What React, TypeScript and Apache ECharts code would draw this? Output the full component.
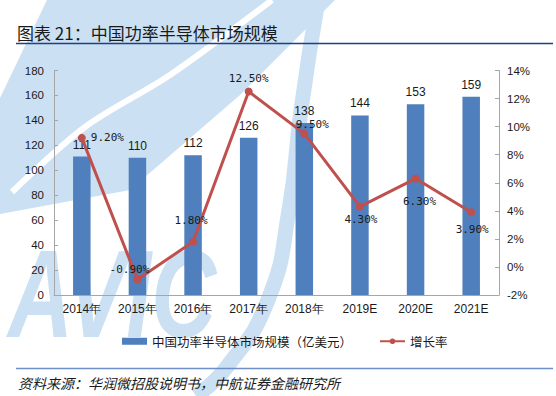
import React, { useEffect, useRef } from "react";
import * as echarts from "echarts";

const categories = ["2014年", "2015年", "2016年", "2017年", "2018年", "2019E", "2020E", "2021E"];
const marketSize = [111, 110, 112, 126, 138, 144, 153, 159];
const growthRate = [9.2, -0.9, 1.8, 12.5, 9.5, 4.3, 6.3, 3.9];
const barName = "中国功率半导体市场规模（亿美元）";
const lineName = "增长率";
const titleText = "图表 21：中国功率半导体市场规模";
const sourceText = "资料来源：华润微招股说明书，中航证券金融研究所";

// label placement per point (style only)
const growthLabelPlace: any[] = [
  { position: "right", distance: 5, offset: [0, 0] },
  { position: "top", distance: 1, offset: [-8, 0] },
  { position: "top", distance: 12, offset: [-2, 0] },
  { position: "top", distance: 4, offset: [0, 0] },
  { position: "top", distance: 0, offset: [8, 0] },
  { position: "bottom", distance: 3, offset: [1, 0] },
  { position: "bottom", distance: 13, offset: [4, 0] },
  { position: "bottom", distance: 8, offset: [1, 0] },
];

const WM = "#cbe0f2";
const CJK = "'Noto Sans CJK SC', sans-serif";
const LAT = "'Liberation Sans', Arial, sans-serif";

export default function App() {
  const ref = useRef<HTMLDivElement>(null);
  useEffect(() => {
    if (!ref.current) return;
    const chart = echarts.init(ref.current, null, { renderer: "svg" });
    const option: any = {
      animation: false,
      backgroundColor: "#ffffff",
      graphic: [
        {
          type: "polygon",
          z: -10,
          shape: { points: [[0, 98], [47, 0], [335, 0], [240, 95], [130, 190], [0, 214]] },
          style: { fill: WM },
        },
        {
          type: "polyline",
          z: -9,
          shape: { points: [[12, 192], [85, 127], [170, 75], [272, 0]], smooth: 0.3 },
          style: { stroke: "#ffffff", lineWidth: 6, fill: null },
        },
        {
          type: "polyline",
          z: -9,
          shape: { points: [[318, 0], [301, 110], [289, 210], [268, 300], [226, 368], [196, 396]], smooth: 0.5 },
          style: { stroke: WM, lineWidth: 15, fill: null },
        },
        {
          type: "text",
          z: -9,
          x: 8,
          y: 356,
          scaleX: 0.72,
          style: {
            text: "AVIC",
            fill: WM,
            font: "italic bold 125px 'Liberation Sans', Arial, sans-serif",
            verticalAlign: "bottom",
            align: "left",
          },
        },
        {
          type: "text",
          x: 17,
          y: 32,
          style: {
            text: titleText,
            fill: "#1a1a1a",
            font: `17px ${CJK}`,
            verticalAlign: "middle",
          },
        },
        {
          type: "line",
          shape: { x1: 16, y1: 43.5, x2: 553, y2: 43.5 },
          style: { stroke: "#1f3f88", lineWidth: 1.5 },
        },
        {
          type: "line",
          shape: { x1: 16, y1: 368.5, x2: 553, y2: 368.5 },
          style: { stroke: "#6f8fc8", lineWidth: 1.5 },
        },
        {
          type: "text",
          x: 18,
          y: 383,
          style: {
            text: sourceText,
            fill: "#1a1a1a",
            font: `italic 14px ${CJK}`,
            verticalAlign: "middle",
          },
        },
      ],
      grid: { left: 54, right: 57, top: 70.5, bottom: 101, containLabel: false },
      legend: {
        left: 117,
        top: 330,
        itemWidth: 25,
        itemHeight: 7,
        itemGap: 27,
        textStyle: { fontFamily: CJK, fontSize: 12.5, color: "#1a1a1a" },
        data: [
          { name: barName, icon: "rect" },
          { name: lineName },
        ],
      },
      xAxis: {
        type: "category",
        data: categories,
        axisLine: { lineStyle: { color: "#a6a6a6", width: 1 } },
        axisTick: { inside: true, length: 5, lineStyle: { color: "#a6a6a6" } },
        axisLabel: { fontFamily: LAT, fontSize: 12, color: "#1a1a1a", margin: 8 },
        splitLine: { show: false },
      },
      yAxis: [
        {
          type: "value",
          min: 0,
          max: 180,
          interval: 20,
          axisLine: { show: true, lineStyle: { color: "#a6a6a6" } },
          axisTick: { show: true, inside: true, length: 4, lineStyle: { color: "#a6a6a6" } },
          axisLabel: { fontFamily: LAT, fontSize: 11.5, color: "#1a1a1a", margin: 10 },
          splitLine: { show: false },
        },
        {
          type: "value",
          min: -2,
          max: 14,
          interval: 2,
          position: "right",
          axisLine: { show: true, lineStyle: { color: "#a6a6a6" } },
          axisTick: { show: true, inside: true, length: 4, lineStyle: { color: "#a6a6a6" } },
          axisLabel: { fontFamily: LAT, fontSize: 11.5, color: "#1a1a1a", margin: 8, formatter: "{value}%" },
          splitLine: { show: false },
        },
      ],
      series: [
        {
          name: barName,
          type: "bar",
          data: marketSize,
          barWidth: 17.5,
          itemStyle: { color: "#4f7fbd" },
          z: 2,
          label: {
            show: true,
            position: "top",
            distance: 6,
            fontFamily: LAT,
            fontSize: 12,
            color: "#1a1a1a",
          },
        },
        {
          name: lineName,
          type: "line",
          yAxisIndex: 1,
          z: 3,
          data: growthRate.map((v, i) => ({
            value: v,
            label: { ...growthLabelPlace[i] },
          })),
          symbol: "circle",
          symbolSize: 8,
          lineStyle: { color: "#c0504d", width: 3 },
          itemStyle: { color: "#c0504d" },
          label: {
            show: true,
            fontFamily: "'DejaVu Sans Mono', monospace",
            fontSize: 11,
            color: "#1a1a1a",
            formatter: (p: any) => Number(p.value).toFixed(2) + "%",
          },
        },
      ],
    };
    chart.setOption(option);
    return () => chart.dispose();
  }, []);
  return <div ref={ref} style={{ width: 556, height: 396, position: "absolute", left: 0, top: 0 }} />;
}
